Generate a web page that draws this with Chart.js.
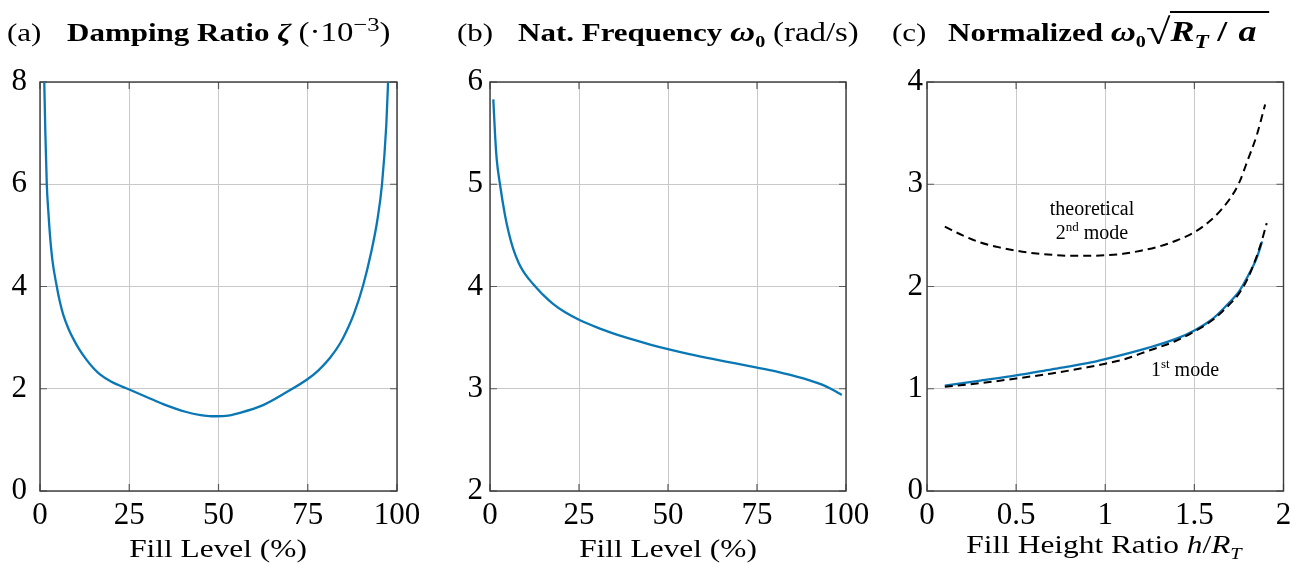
<!DOCTYPE html>
<html><head><meta charset="utf-8">
<script src="https://cdn.jsdelivr.net/npm/chart.js@4.4.0/dist/chart.umd.min.js"></script>
<style>
html,body{margin:0;padding:0;background:#fff;width:1299px;height:573px;overflow:hidden;position:relative;}
canvas{position:absolute;top:0;}
.t{position:absolute;font-family:'Liberation Serif',serif;font-size:25px;line-height:30px;white-space:nowrap;color:#000;transform-origin:0 0;transform:scaleX(1.24);}
.xl{position:absolute;width:400px;text-align:center;font-family:'Liberation Serif',serif;font-size:25.5px;line-height:30px;white-space:nowrap;color:#000;transform:scaleX(1.23);transform-origin:50% 0;}
.ann{position:absolute;width:200px;text-align:center;font-family:'Liberation Serif',serif;font-size:20px;line-height:22px;white-space:nowrap;color:#000;}
sub,sup{font-size:65%;line-height:0;}
.t sup{font-size:75%;}
.rg{font-size:26.5px;line-height:0;}
.rt{font-size:28px;line-height:0;}
.sqs{font-size:36px;font-weight:bold;line-height:0;position:relative;top:3px;}
.sq{border-top:2.4px solid #000;padding-top:2px;padding-right:10px;font-size:29px;line-height:0;}
.sl{margin:0 9px 0 7px;}
</style></head>
<body>
<canvas id="ca" width="430" height="573" style="left:0px"></canvas>
<canvas id="cb" width="440" height="573" style="left:440px"></canvas>
<canvas id="cc" width="429" height="573" style="left:870px"></canvas>

<div class="t" style="left:7px;top:18px">(a)</div>
<div class="t" style="left:67px;top:18px"><b>Damping Ratio <i>ζ</i></b> <span class="rg">(·10<sup>−3</sup>)</span></div>
<div class="t" style="left:457px;top:18px">(b)</div>
<div class="t" style="left:518px;top:18px"><b>Nat. Frequency <i class="rt">ω</i><sub>0</sub></b> <span class="rg">(rad/s)</span></div>
<div class="t" style="left:892px;top:18px">(c)</div>
<div class="t" style="left:948px;top:18px"><b>Normalized <i class="rt">ω</i><sub>0</sub><span class="sqs">√</span><span class="sq"><i>R<sub>T</sub></i><span class="sl">/</span><i>a</i></span></b></div>

<div class="xl" style="left:18px;top:534px">Fill Level (%)</div>
<div class="xl" style="left:468px;top:534px">Fill Level (%)</div>
<div class="xl" style="left:904px;top:530px">Fill Height Ratio <i>h</i>/<i>R<sub>T</sub></i></div>

<div class="ann" style="left:992px;top:197px">theoretical</div>
<div class="ann" style="left:992px;top:221px">2<sup>nd</sup> mode</div>
<div class="ann" style="left:1085px;top:358px">1<sup>st</sup> mode</div>

<script>
// ---- tick labels ----
const fillLevelTicks = [0, 25, 50, 75, 100];
const dampTicks = [0, 2, 4, 6, 8];
const freqTicks = [2, 3, 4, 5, 6];
const ratioTicks = [0, 0.5, 1, 1.5, 2];
const normTicks = [0, 1, 2, 3, 4];

// ---- (a) damping ratio (·10^-3) vs fill level (%) ----
const dampFill = [1.2, 1.5, 1.9, 2.4, 2.8, 3.5, 4.7, 5.5, 6.5, 8, 9.3, 11, 13.1, 15, 16.8, 20, 25, 30, 34.5, 41, 45, 48, 52, 56, 62.5, 69, 75, 78, 81.2, 84, 85.8, 88, 90.5, 92.8, 94.5, 95.8, 97, 97.5];
const dampVal  = [8.0, 7.0, 6.0, 5.4, 5.0, 4.5, 4.0, 3.72, 3.45, 3.17, 2.98, 2.77, 2.56, 2.4, 2.28, 2.135, 1.985, 1.835, 1.70, 1.545, 1.485, 1.462, 1.47, 1.53, 1.68, 1.93, 2.19, 2.36, 2.6, 2.88, 3.12, 3.48, 4.02, 4.68, 5.3, 6.0, 7.16, 8.0];

// ---- (b) natural frequency (rad/s) vs fill level (%) ----
const freqFill = [0.93, 1.4, 1.87, 2.8, 4.2, 5.3, 6.5, 8, 9.3, 11, 12.6, 15, 17.7, 21, 25, 30, 35, 40, 45, 50, 56, 62.5, 69, 75, 80, 85.9, 90, 93.3, 96, 98.8];
const freqVal  = [5.83, 5.5, 5.25, 5.0, 4.70, 4.52, 4.37, 4.235, 4.15, 4.07, 4.005, 3.915, 3.83, 3.75, 3.675, 3.60, 3.537, 3.482, 3.432, 3.387, 3.338, 3.291, 3.248, 3.207, 3.172, 3.12, 3.08, 3.04, 2.995, 2.94];

// ---- (c) normalized frequency vs fill height ratio ----
const simRatio   = [0.1, 0.3, 0.5, 0.7, 0.9, 1.0, 1.24, 1.4, 1.5, 1.6, 1.65, 1.7, 1.75, 1.80, 1.85, 1.88];
const simNorm    = [1.03, 1.08, 1.13, 1.19, 1.25, 1.29, 1.40, 1.49, 1.57, 1.68, 1.76, 1.85, 1.95, 2.10, 2.28, 2.44];
const mode1Ratio = [0.1, 0.3, 0.5, 0.7, 0.9, 1.0, 1.1, 1.24, 1.4, 1.5, 1.6, 1.7, 1.75, 1.80, 1.84, 1.87, 1.906];
const mode1Norm  = [1.02, 1.055, 1.10, 1.15, 1.21, 1.245, 1.285, 1.37, 1.47, 1.56, 1.67, 1.83, 1.93, 2.08, 2.25, 2.40, 2.62];
const mode2Ratio = [0.1, 0.2, 0.3, 0.4, 0.5, 0.6, 0.7, 0.8, 0.9, 1.0, 1.1, 1.2, 1.3, 1.4, 1.5, 1.6, 1.65, 1.7, 1.75, 1.8, 1.85, 1.897];
const mode2Norm  = [2.585, 2.50, 2.43, 2.385, 2.35, 2.325, 2.31, 2.30, 2.30, 2.305, 2.32, 2.35, 2.39, 2.45, 2.53, 2.66, 2.75, 2.86, 3.01, 3.24, 3.48, 3.78];

const FONT = "'Liberation Serif', 'DejaVu Serif', serif";
const BLUE = '#0a77b5';
const pts = (xs, ys) => xs.map((x, i) => ({x: x, y: ys[i]}));

const framePlugin = {
  id: 'frame',
  beforeDatasetsDraw(chart) {
    const {ctx, chartArea: a, scales: {x, y}} = chart;
    const L = 7;
    ctx.save();
    ctx.strokeStyle = '#5a5a5a';
    ctx.lineWidth = 1.2;
    ctx.beginPath();
    x.ticks.forEach(t => {
      const px = x.getPixelForValue(t.value);
      ctx.moveTo(px, a.bottom); ctx.lineTo(px, a.bottom - L);
      ctx.moveTo(px, a.top); ctx.lineTo(px, a.top + L);
    });
    y.ticks.forEach(t => {
      const py = y.getPixelForValue(t.value);
      ctx.moveTo(a.left, py); ctx.lineTo(a.left + L, py);
      ctx.moveTo(a.right, py); ctx.lineTo(a.right - L, py);
    });
    ctx.stroke();
    ctx.strokeStyle = '#3a3a3a';
    ctx.lineWidth = 1.4;
    ctx.strokeRect(a.left, a.top, a.right - a.left, a.bottom - a.top);
    ctx.restore();
  }
};

function axis(min, max, tickArr, pad, fitFn) {
  return {
    type: 'linear', min: min, max: max,
    afterBuildTicks: s => { s.ticks = tickArr.map(v => ({value: v})); },
    afterFit: fitFn,
    grid: {color: '#c9c9c9', lineWidth: 1, drawTicks: false},
    border: {display: false},
    ticks: {color: '#000', font: {family: FONT, size: 31}, padding: pad, callback: v => String(v)}
  };
}

function makeChart(id, datasets, xr, yr, yWidth, padRight, yPad) {
  new Chart(document.getElementById(id), {
    type: 'line',
    data: {datasets: datasets},
    options: {
      responsive: false, animation: false, devicePixelRatio: 1,
      layout: {padding: {left: 0, top: 82, right: padRight, bottom: 42}},
      plugins: {legend: {display: false}, tooltip: {enabled: false}, title: {display: false}},
      elements: {point: {radius: 0}},
      scales: {
        x: axis(xr[0], xr[1], xr[2], 6, s => { s.height = 40; }),
        y: axis(yr[0], yr[1], yr[2], yPad, s => { s.width = yWidth; })
      }
    },
    plugins: [framePlugin]
  });
}

const solid = (data) => ({data: data, borderColor: BLUE, borderWidth: 2.3, fill: false, cubicInterpolationMode: 'monotone', pointRadius: 0});
const dashed = (data) => ({data: data, borderColor: '#000', borderWidth: 2, borderDash: [8, 5], fill: false, cubicInterpolationMode: 'monotone', pointRadius: 0});

makeChart('ca', [solid(pts(dampFill, dampVal))], [0, 100, fillLevelTicks], [0, 8, dampTicks], 40, 33, 13);
makeChart('cb', [solid(pts(freqFill, freqVal))], [0, 100, fillLevelTicks], [2, 6, freqTicks], 50, 34, 7);
makeChart('cc', [dashed(pts(mode2Ratio, mode2Norm)), dashed(pts(mode1Ratio, mode1Norm)), solid(pts(simRatio, simNorm))], [0, 2, ratioTicks], [0, 4, normTicks], 57, 15.5, 4);
</script>
</body></html>
